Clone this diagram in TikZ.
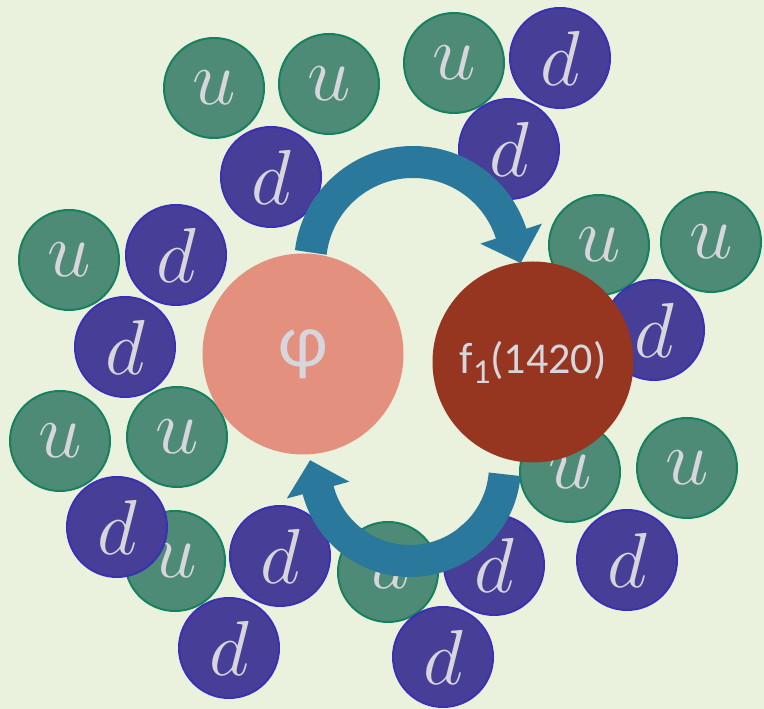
\RequirePackage{fix-cm}
\documentclass[tikz,border=0pt]{standalone}
\usepackage{fontspec}
\newfontfamily\calibri{Carlito}
\usetikzlibrary{arrows.meta,calc}
\definecolor{bgcol}{HTML}{EAF2DD}
\definecolor{upfill}{HTML}{4E8B76}
\definecolor{upline}{HTML}{16815F}
\definecolor{downfill}{HTML}{473F97}
\definecolor{downline}{HTML}{3A30B4}
\definecolor{phifill}{HTML}{E3907E}
\definecolor{ffill}{HTML}{963620}
\definecolor{arrowcol}{HTML}{2A789C}
\definecolor{labelcol}{HTML}{D6D6DC}

\tikzset{
  quark/.style={circle,minimum size=100pt,inner sep=0pt,line width=2pt,
    text=labelcol,font=\fontsize{78}{78}\selectfont},
  upq/.style={quark,fill=upfill,draw=upline},
  downq/.style={quark,fill=downfill,draw=downline},
  meson/.style={circle,minimum size=201pt,inner sep=0pt,text=labelcol,font=\calibri},
  cyclearrow/.style={arrowcol,line width=32pt,-{Triangle[length=31pt,width=63pt]}}
}

\begin{document}
\begin{tikzpicture}[x=1pt,y=1pt]
  \fill[bgcol] (0,0) rectangle (764,709);
  \useasboundingbox (0,0) rectangle (764,709);
  % surrounding quarks
  \node[upq]   (u1)  at (214,621) {$u$};
  \node[upq]   (u2)  at (329,625) {$u$};
  \node[downq] (d1)  at (271,532) {$d$};
  \node[upq]   (u4)  at (454,646) {$u$};
  \node[downq] (d3)  at (560,651) {$d$};
  \node[downq] (d4)  at (509,560) {$d$};
  \node[upq]   (u3)  at (69,449)  {$u$};
  \node[downq] (d2)  at (176,454) {$d$};
  \node[downq] (d12) at (125,362) {$d$};
  \node[upq]   (u5)  at (599,464) {$u$};
  \node[upq]   (u6)  at (711,467) {$u$};
  \node[downq] (d11) at (654,379) {$d$};
  \node[upq]   (u7)  at (60,268)  {$u$};
  \node[upq]   (u8)  at (177,272) {$u$};
  \node[upq]   (u9)  at (175,148) {$u$};
  \node[downq] (d5)  at (117,182) {$d$};
  \node[downq] (d6)  at (280,153) {$d$};
  \node[downq] (d7)  at (229,61)  {$d$};
  \node[upq]   (u10) at (388,137) {$u$};
  \node[downq] (d8)  at (494,144) {$d$};
  \node[downq] (d9)  at (443,52)  {$d$};
  \node[upq]   (u11) at (570,237) {$u$};
  \node[upq]   (u12) at (687,241) {$u$};
  \node[downq] (d10) at (627,149) {$d$};
  % the two mesons
  \node[meson,fill=phifill] (phi) at (303,355) {\fontsize{76}{76}\selectfont φ};
  \node[meson,fill=ffill] (f1) at (533,347)
    {\fontsize{44}{44}\selectfont f\raisebox{-10pt}{\fontsize{35}{35}\selectfont 1}(1420)};
  % transitions
  \coordinate (upper) at (413,444);
  \coordinate (lower) at (410,243);
  \draw[cyclearrow] ($(upper)+(173:103)$) arc[start angle=173,end angle=18,radius=103]
    -- ++(-72:31.5);
  \draw[cyclearrow] ($(lower)+(-5:95)$) arc[start angle=-5,end angle=-165,radius=95]
    -- ++(105:31.5);
\end{tikzpicture}
\end{document}
